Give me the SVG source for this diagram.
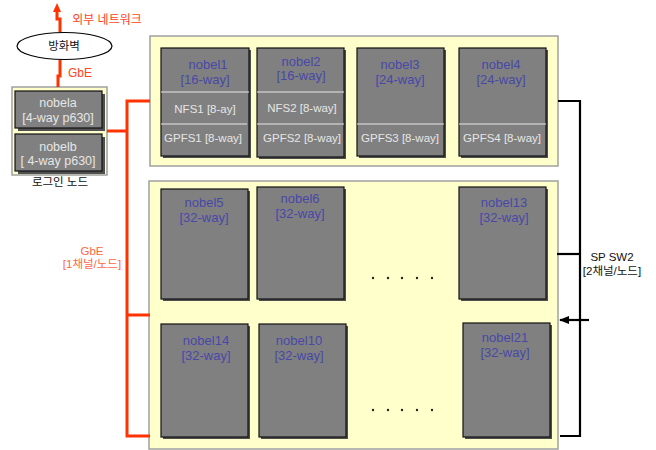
<svg xmlns="http://www.w3.org/2000/svg" width="656" height="450" viewBox="0 0 656 450">
<defs>
<style>
.panel{fill:#ffffcc;stroke:#a0a0a0;stroke-width:1.5}
.node{fill:#808080;stroke:#111;stroke-width:1.2}
.shadow{fill:#505050}
.div{stroke:#e8e8e8;stroke-width:1.2}
.lbl{font-family:"Liberation Sans","Noto Sans CJK KR",sans-serif;font-size:13px;fill:#4848a8;text-anchor:middle}
.sub{font-family:"Liberation Sans","Noto Sans CJK KR",sans-serif;font-size:11.5px;fill:#e6e6e6;text-anchor:middle}
.login{font-family:"Liberation Sans","Noto Sans CJK KR",sans-serif;font-size:12.5px;fill:#e6e6e6;text-anchor:middle}
.kr{font-family:"Liberation Sans","Noto Sans CJK KR",sans-serif;font-size:11.5px;fill:#111;text-anchor:middle}
.red{font-family:"Liberation Sans","Noto Sans CJK KR",sans-serif;font-size:12px;fill:#ff4422;text-anchor:middle}
.redl{font-family:"Liberation Sans","Noto Sans CJK KR",sans-serif;font-size:11.5px;fill:#ff6644;text-anchor:middle}
.rl{fill:none;stroke:#ff3300;stroke-width:3}
.bl{fill:none;stroke:#000;stroke-width:2.2}
.dot{fill:#222}
</style>
<marker id="arrBlk" markerWidth="10" markerHeight="8" refX="9" refY="4" orient="auto" markerUnits="userSpaceOnUse" viewBox="0 0 10 8">
<path d="M0,0 L10,4 L0,8 Z" fill="#000"/>
</marker>
</defs>
<rect width="656" height="450" fill="#fff"/>

<!-- panels -->
<rect id="panel-top" class="panel" x="150" y="36" width="408" height="130"/>
<rect id="panel-bottom" class="panel" x="149" y="181" width="409" height="268"/>
<rect id="panel-login" class="panel" x="12" y="87" width="95" height="88"/>

<!-- connectors -->
<g id="connectors">
<path class="rl" d="M60,32 V19 H57 V10"/>
<polygon points="57,3 53,12 61,12" fill="#ff3300"/>
<path class="rl" d="M60,60 V76 H58 V87"/>
<path class="rl" d="M107,131 H127"/>
<path class="rl" d="M150,101 H127 V436 H150"/>
<path class="rl" d="M127,315 H150"/>
<path class="bl" d="M558,101 H580 V436 H560"/>
<path class="bl" d="M557,254 H580"/>
<path class="bl" d="M589,320 H560" marker-end="url(#arrBlk)"/>
</g>

<!-- labels -->
<text class="red" x="107" y="24">외부 네트워크</text>
<text class="red" x="80" y="77">GbE</text>
<text class="redl" x="92" y="255">GbE</text>
<text class="redl" x="92" y="268">[1채널/노드]</text>
<text class="kr" x="612" y="261">SP SW2</text>
<text class="kr" x="612" y="275">[2채널/노드]</text>
<text class="kr" x="60" y="186">로그인 노드</text>

<!-- firewall -->
<g id="firewall">
<ellipse cx="64.5" cy="46" rx="47.5" ry="13.5" fill="#fff" stroke="#000" stroke-width="1.2"/>
<text class="kr" x="64" y="50">방화벽</text>
</g>

<!-- login nodes -->
<g id="nobela">
<rect class="shadow" x="18" y="94" width="87" height="37"/>
<rect class="node" x="15" y="91" width="87" height="37"/>
<text class="login" x="58" y="107">nobela</text>
<text class="login" x="58" y="122">[4-way p630]</text>
</g>
<g id="nobelb">
<rect class="shadow" x="18" y="137" width="87" height="37"/>
<rect class="node" x="15" y="134" width="87" height="37"/>
<text class="login" x="58" y="151">nobelb</text>
<text class="login" x="58" y="165">[ 4-way p630]</text>
</g>

<!-- top row -->
<g id="nobel1">
<rect class="shadow" x="163" y="50" width="88" height="108"/>
<rect class="node" x="161" y="48" width="88" height="108"/>
<line class="div" x1="161" y1="92" x2="249" y2="92"/>
<line class="div" x1="161" y1="124" x2="247" y2="124"/>
<text class="lbl" x="208" y="69">nobel1</text>
<text class="lbl" x="205" y="84">[16-way]</text>
<text class="sub" x="205" y="113">NFS1 [8-ay]</text>
<text class="sub" x="203" y="142">GPFS1 [8-way]</text>
</g>
<g id="nobel2">
<rect class="shadow" x="259" y="50" width="87" height="109"/>
<rect class="node" x="257" y="48" width="87" height="109"/>
<line class="div" x1="257" y1="92" x2="344" y2="92"/>
<line class="div" x1="257" y1="124" x2="344" y2="124"/>
<text class="lbl" x="301" y="66">nobel2</text>
<text class="lbl" x="301" y="80">[16-way]</text>
<text class="sub" x="302" y="112">NFS2 [8-way]</text>
<text class="sub" x="302" y="142">GPFS2 [8-way]</text>
</g>
<g id="nobel3">
<rect class="shadow" x="359" y="50" width="87" height="108"/>
<rect class="node" x="357" y="48" width="87" height="108"/>
<line class="div" x1="357" y1="124" x2="444" y2="124"/>
<text class="lbl" x="400" y="69">nobel3</text>
<text class="lbl" x="400" y="84">[24-way]</text>
<text class="sub" x="400" y="142">GPFS3 [8-way]</text>
</g>
<g id="nobel4">
<rect class="shadow" x="461" y="50" width="87" height="108"/>
<rect class="node" x="459" y="48" width="87" height="108"/>
<line class="div" x1="459" y1="124" x2="546" y2="124"/>
<text class="lbl" x="501" y="69">nobel4</text>
<text class="lbl" x="501" y="84">[24-way]</text>
<text class="sub" x="502" y="142">GPFS4 [8-way]</text>
</g>

<!-- middle row -->
<g id="nobel5">
<rect class="shadow" x="163" y="191" width="87" height="110"/>
<rect class="node" x="161" y="189" width="87" height="110"/>
<text class="lbl" x="204" y="207">nobel5</text>
<text class="lbl" x="204" y="222">[32-way]</text>
</g>
<g id="nobel6">
<rect class="shadow" x="259" y="189" width="87" height="112"/>
<rect class="node" x="257" y="187" width="87" height="112"/>
<text class="lbl" x="300" y="203">nobel6</text>
<text class="lbl" x="300" y="218">[32-way]</text>
</g>
<g id="nobel13">
<rect class="shadow" x="461" y="189" width="87" height="112"/>
<rect class="node" x="459" y="187" width="87" height="112"/>
<text class="lbl" x="504" y="207">nobel13</text>
<text class="lbl" x="504" y="222">[32-way]</text>
</g>
<g id="dots1">
<circle class="dot" cx="373" cy="278" r="1.2"/>
<circle class="dot" cx="388" cy="278" r="1.2"/>
<circle class="dot" cx="402" cy="278" r="1.2"/>
<circle class="dot" cx="417" cy="278" r="1.2"/>
<circle class="dot" cx="432" cy="278" r="1.2"/>
</g>

<!-- bottom row -->
<g id="nobel14">
<rect class="shadow" x="163" y="326" width="87" height="113"/>
<rect class="node" x="161" y="324" width="87" height="113"/>
<text class="lbl" x="206" y="345">nobel14</text>
<text class="lbl" x="206" y="360">[32-way]</text>
</g>
<g id="nobel10">
<rect class="shadow" x="261" y="326" width="87" height="113"/>
<rect class="node" x="259" y="324" width="87" height="113"/>
<text class="lbl" x="299" y="345">nobel10</text>
<text class="lbl" x="299" y="360">[32-way]</text>
</g>
<g id="nobel21">
<rect class="shadow" x="465" y="325" width="87" height="114"/>
<rect class="node" x="463" y="323" width="87" height="114"/>
<text class="lbl" x="505" y="342">nobel21</text>
<text class="lbl" x="505" y="357">[32-way]</text>
</g>
<g id="dots2">
<circle class="dot" cx="373" cy="410" r="1.2"/>
<circle class="dot" cx="388" cy="410" r="1.2"/>
<circle class="dot" cx="402" cy="410" r="1.2"/>
<circle class="dot" cx="417" cy="410" r="1.2"/>
<circle class="dot" cx="432" cy="410" r="1.2"/>
</g>
</svg>
